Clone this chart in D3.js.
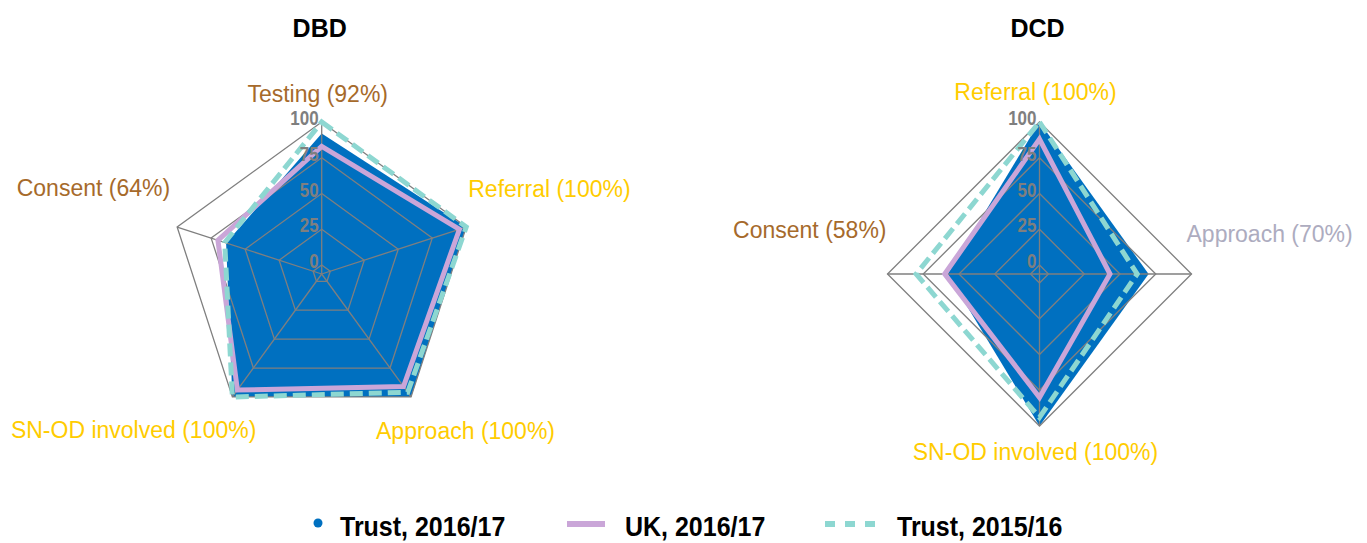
<!DOCTYPE html>
<html>
<head>
<meta charset="utf-8">
<script src="https://cdn.jsdelivr.net/npm/d3@7"></script>
<style>
  body { margin: 0; background: #fff; }
  svg { display: block; font-family: "Liberation Sans", Arial, sans-serif; }
</style>
</head>
<body>
<svg id="chart" width="1367" height="543"></svg>
<script>
// ---- data ----
const ticks = [0, 25, 50, 75, 100]

const dbdAxes = ['Testing', 'Referral', 'Approach', 'SN-OD involved', 'Consent']
const dbdTrust1617 = [92, 100, 100, 100, 64]
const dbdUK1617 = [83, 95, 91, 94, 70]
const dbdTrust1516 = [100, 100, 96, 100, 65]
const dbdLabelColors = ['#A66A2B', '#FFCC00', '#FFCC00', '#FFCC00', '#A66A2B']

const dcdAxes = ['Referral', 'Approach', 'SN-OD involved', 'Consent']
const dcdTrust1617 = [100, 70, 100, 58]
const dcdUK1617 = [88, 43, 80, 60]
const dcdTrust1516 = [100, 62, 94, 80]
const dcdLabelColors = ['#FFCC00', '#ADACBF', '#FFCC00', '#A66A2B']

const seriesNames = ['Trust, 2016/17', 'UK, 2016/17', 'Trust, 2015/16']

// ---- styles / layout ----
const blue = '#0070C0', purple = '#CAA6D8', teal = '#8DD7D1', grid = '#7F7F7F'

const charts = [
  { title: 'DBD', cx: 321.7, cy: 274, axes: dbdAxes, colors: dbdLabelColors,
    series: [dbdTrust1617, dbdUK1617, dbdTrust1516],
    // anchor, dx, dy relative to the outer (100) vertex
    labelPos: [['middle', -4, -20], ['start', 2, -30], ['start', -35, 42], ['end', 24, 41], ['end', -7, -31]] },
  { title: 'DCD', cx: 1039.5, cy: 274, axes: dcdAxes, colors: dcdLabelColors,
    series: [dcdTrust1617, dcdUK1617, dcdTrust1516],
    labelPos: [['middle', -4, -22], ['start', -5, -32], ['middle', -4, 34], ['end', -1, -36]] }
]

const svg = d3.select('#chart')
const r = d3.scaleLinear().domain([0, 100]).range([9, 152])

charts.forEach(c => {
  const n = c.axes.length
  const angle = i => -Math.PI / 2 + i * 2 * Math.PI / n
  const pt = (v, i) => [c.cx + r(v) * Math.cos(angle(i)), c.cy + r(v) * Math.sin(angle(i))]
  const line = d3.line().curve(d3.curveLinearClosed)

  const g = svg.append('g')

  svg.append('text')
    .attr('x', c.cx - 2)
    .attr('y', 37)
    .attr('text-anchor', 'middle')
    .attr('font-size', 25)
    .attr('font-weight', 'bold')
    .attr('fill', '#000')
    .text(c.title)

  // trust 2016/17 filled area
  g.append('path')
    .attr('d', line(c.series[0].map(pt)))
    .attr('fill', blue)

  // grid rings + spokes
  g.selectAll('.ring')
    .data(ticks)
    .enter()
    .append('path')
    .attr('d', t => line(c.axes.map((a, i) => pt(t, i))))
    .attr('fill', 'none')
    .attr('stroke', grid)
    .attr('stroke-width', 1.3)

  g.selectAll('.spoke')
    .data(c.axes)
    .enter()
    .append('line')
    .attr('x1', c.cx)
    .attr('y1', c.cy)
    .attr('x2', (d, i) => pt(100, i)[0])
    .attr('y2', (d, i) => pt(100, i)[1])
    .attr('stroke', grid)
    .attr('stroke-width', 1.3)

  g.append('path')
    .attr('d', line(c.series[1].map(pt)))
    .attr('fill', 'none')
    .attr('stroke', purple)
    .attr('stroke-width', 5)

  g.append('path')
    .attr('d', line(c.series[2].map(pt)))
    .attr('fill', 'none')
    .attr('stroke', teal)
    .attr('stroke-width', 5)
    .attr('stroke-dasharray', '13,6')

  // tick labels on the first axis
  g.selectAll('.tick')
    .data(ticks)
    .enter()
    .append('text')
    .attr('transform', t => `translate(${c.cx - 3},${c.cy - r(t) + 3}) scale(1,1.15)`)
    .attr('text-anchor', 'end')
    .attr('font-size', 17)
    .attr('font-weight', 'bold')
    .attr('fill', '#7F7F7F')
    .text(t => t)

  // category labels
  g.selectAll('.cat')
    .data(c.axes)
    .enter()
    .append('text')
    .attr('x', (d, i) => pt(100, i)[0] + c.labelPos[i][1])
    .attr('y', (d, i) => pt(100, i)[1] + c.labelPos[i][2])
    .attr('text-anchor', (d, i) => c.labelPos[i][0])
    .attr('font-size', 23)
    .attr('fill', (d, i) => c.colors[i])
    .text((d, i) => d + ' (' + c.series[0][i] + '%)')
})

// ---- legend ----
const legendX = [318, 567, 825]
const legendG = svg.append('g')

legendG.append('circle')
  .attr('cx', legendX[0])
  .attr('cy', 523)
  .attr('r', 4.5)
  .attr('fill', blue)

legendG.append('line')
  .attr('x1', legendX[1]).attr('x2', legendX[1] + 38)
  .attr('y1', 524).attr('y2', 524)
  .attr('stroke', purple)
  .attr('stroke-width', 6)

legendG.append('line')
  .attr('x1', legendX[2]).attr('x2', legendX[2] + 50)
  .attr('y1', 524).attr('y2', 524)
  .attr('stroke', teal)
  .attr('stroke-width', 6)
  .attr('stroke-dasharray', '10,10')

const legendTextX = [340, 625, 897]
legendG.selectAll('.lt')
  .data(seriesNames)
  .enter()
  .append('text')
  .attr('transform', (d, i) => `translate(${legendTextX[i]},536) scale(1,1.1)`)
  .attr('font-size', 25)
  .attr('font-weight', 'bold')
  .attr('fill', '#000')
  .text(d => d)
</script>
</body>
</html>
